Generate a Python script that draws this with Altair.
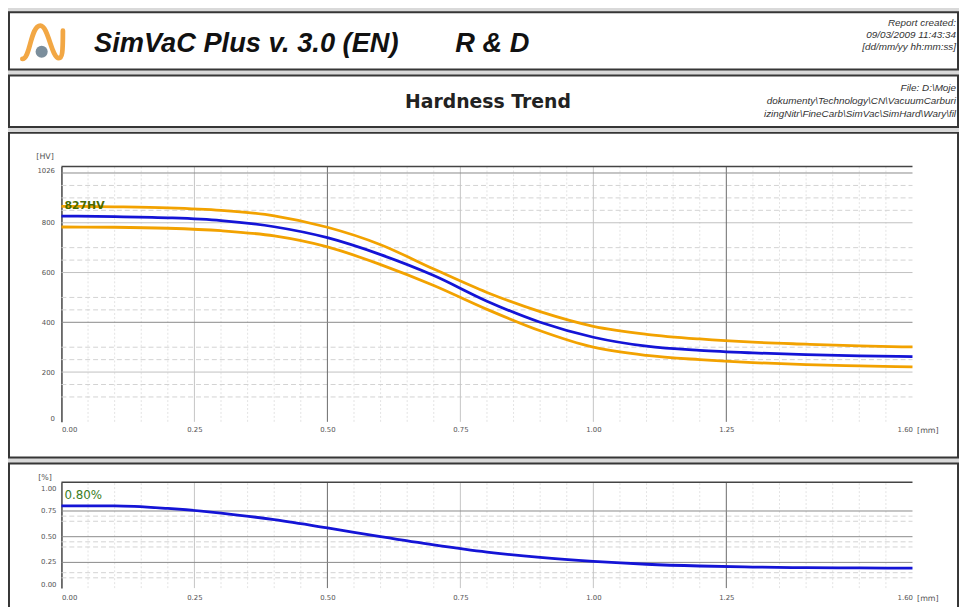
import altair as alt
import pandas as pd

# ---------------- data ----------------
depth_hv = [0.0, 0.1, 0.2, 0.3, 0.4, 0.5, 0.6, 0.7, 0.8, 0.9, 1.0, 1.1, 1.2, 1.3, 1.4, 1.5, 1.6]
hv_mean = [827, 825, 820, 809, 784, 740, 672, 588, 485, 400, 340, 304, 287, 277, 270, 265, 262]
hv_upper = [866, 864, 860, 850, 828, 782, 712, 614, 520, 443, 384, 352, 333, 320, 312, 305, 301]
hv_lower = [783, 782, 778, 768, 747, 703, 632, 548, 452, 366, 300, 267, 250, 238, 230, 225, 221]

depth_c = [0.0, 0.1, 0.2, 0.3, 0.4, 0.5, 0.6, 0.7, 0.8, 0.9, 1.0, 1.1, 1.2, 1.3, 1.4, 1.5, 1.6]
carbon = [0.80, 0.80, 0.775, 0.73, 0.665, 0.585, 0.50, 0.42, 0.35, 0.298, 0.26, 0.232, 0.215, 0.205, 0.199, 0.196, 0.195]

x_ticks = [0.0, 0.25, 0.5, 0.75, 1.0, 1.25, 1.6]
x_grid_dark = [0.5, 1.25]
x_grid_light = [0.25, 0.75, 1.0]
x_grid_minor = [0.05, 0.1, 0.15, 0.2, 0.3, 0.35, 0.4, 0.45, 0.55, 0.6, 0.65, 0.7,
                0.8, 0.85, 0.9, 0.95, 1.05, 1.1, 1.15, 1.2, 1.3, 1.35, 1.4, 1.45, 1.5, 1.55]

hv_ticks = [0, 200, 400, 600, 800, 1026]
hv_grid_dark = [400, 1000]
hv_grid_light = [200, 600, 800]
hv_grid_minor = [100, 150, 250, 300, 450, 500, 650, 700, 850, 900, 950]

c_ticks = [0.0, 0.25, 0.5, 0.75, 1.0]
c_grid = [0.25, 0.5, 0.75]
c_grid_minor = [0.1, 0.15, 0.4, 0.45, 0.65, 0.7]

header_title = "SimVaC Plus v. 3.0 (EN)"
header_dept = "R & D"
report_lines = ["Report created:", "09/03/2009  11:43:34", "[dd/mm/yy hh:mm:ss]"]
page_title = "Hardness Trend"
file_lines = ["File: D:\\Moje", "dokumenty\\Technology\\CN\\VacuumCarburi",
              "izingNitr\\FineCarb\\SimVac\\SimHard\\Wary\\fil"]

X_MAX = 1.6
HV_MAX = 1026
C_MAX = 1.03

# ---------------- styling ----------------
W = 959
FONT = "DejaVu Sans"
LBL = "#555555"
ORANGE = "#f2a200"
BLUE = "#1414d6"
LOGO_PATH = ("M -0.91 0.77 C -0.55 0.77 -0.55 -0.73 -0.1 -0.73 "
             "C 0.25 -0.73 0.4 0.73 0.73 0.73 C 0.88 0.73 0.91 0.5 0.91 -0.5")


def x_scale():
    return alt.Scale(domain=[0, X_MAX], range=[53, 913], nice=False, zero=False)


def hv_scale():
    return alt.Scale(domain=[0, HV_MAX], range=[292, 34], nice=False, zero=False)


def c_scale():
    return alt.Scale(domain=[0, C_MAX], range=[126, 19], nice=False, zero=False)


def x_axis(offset, pad):
    return alt.Axis(values=x_ticks, format=".2f", offset=offset, domain=False, ticks=False,
                    grid=False, labelPadding=pad, labelFlush=True, labelOverlap=False,
                    labelFont=FONT, labelFontSize=7, labelColor=LBL, title="[mm]",
                    titleAngle=0, titleX=928, titleY=pad + 5, titleAlign="center",
                    titleBaseline="middle", titleFont=FONT, titleFontSize=8,
                    titleFontWeight="normal", titleColor=LBL)


def y_axis(values, fmt, title, title_y, pad, flush, show_labels=True):
    return alt.Axis(values=values, format=fmt, offset=-53, domain=True, domainColor="#444444",
                    domainWidth=1.5, ticks=False, grid=False, labels=show_labels,
                    labelPadding=pad, labelFlush=flush, labelOverlap=False, labelFont=FONT,
                    labelFontSize=7, labelColor=LBL, title=title, titleAngle=0, titleX=-17,
                    titleY=title_y, titleAlign="center", titleBaseline="middle",
                    titleFont=FONT, titleFontSize=8, titleFontWeight="normal",
                    titleColor=LBL)


class Panel:
    """Shared scales and axes for every layer of one plot panel."""

    def __init__(self, ys, y_max, xa, ya):
        self.ys, self.y_max, self.xa, self.ya = ys, y_max, xa, ya

    def X(self, field):
        return alt.X(field, scale=x_scale(), axis=self.xa)

    def Y(self, field):
        return alt.Y(field, scale=self.ys(), axis=self.ya)

    def vrules(self, values, color, width=1.0, dash=None):
        kw = dict(color=color, strokeWidth=width)
        if dash:
            kw["strokeDash"] = dash
        return alt.Chart(pd.DataFrame({"x": values})).mark_rule(**kw).encode(
            x=self.X("x:Q"),
            y=alt.YDatum(0, scale=self.ys(), axis=self.ya),
            y2=alt.datum(self.y_max),
        )

    def hrules(self, values, color, width=1.0, dash=None):
        kw = dict(color=color, strokeWidth=width)
        if dash:
            kw["strokeDash"] = dash
        return alt.Chart(pd.DataFrame({"y": values})).mark_rule(**kw).encode(
            y=self.Y("y:Q"),
            x=alt.XDatum(0, scale=x_scale(), axis=self.xa),
            x2=alt.datum(X_MAX),
        )

    def tick_labels(self, values, baseline):
        """Y tick labels drawn through the panel's own y scale."""
        df = pd.DataFrame({"v": values, "t": [f"{v:.2f}" for v in values]})
        return alt.Chart(df).mark_text(align="right", baseline=baseline, dx=-5, font=FONT,
                                       fontSize=7, color=LBL).encode(
            y=self.Y("v:Q"),
            x=alt.XDatum(0, scale=x_scale(), axis=self.xa),
            text="t:N",
        )


ONE = alt.Data(values=[{}])

# ---------------- header box ----------------
logo = alt.Chart(ONE).mark_point(shape=LOGO_PATH, filled=False, color="#f2a33a", opacity=0.95,
                                 strokeWidth=4.8, size=2025, strokeCap="round").encode(
    x=alt.value(34), y=alt.value(30))
sphere = alt.Chart(ONE).mark_circle(size=150, color="#7b8e9c", opacity=1).encode(
    x=alt.value(33), y=alt.value(40))
t1 = alt.Chart(ONE).mark_text(align="left", baseline="middle", font="Liberation Sans",
                              fontStyle="italic", fontWeight="bold", fontSize=27.5,
                              color="#111111").encode(
    x=alt.value(86), y=alt.value(32), text=alt.value(header_title))
t2 = alt.Chart(ONE).mark_text(align="left", baseline="middle", font="Liberation Sans",
                              fontStyle="italic", fontWeight="bold", fontSize=27.5,
                              color="#111111").encode(
    x=alt.value(451), y=alt.value(32), text=alt.value(header_dept))
rep = alt.Chart(ONE).mark_text(align="right", baseline="middle", font="Liberation Sans",
                               fontStyle="italic", fontSize=10, lineHeight=12,
                               color="#333333").encode(
    x=alt.value(W - 2), y=alt.value(11), text=alt.value(report_lines))
header = alt.layer(logo, sphere, t1, t2, rep).properties(width=W, height=58)

# ---------------- title box ----------------
pt = alt.Chart(ONE).mark_text(align="center", baseline="middle", font=FONT, fontWeight="bold",
                              fontSize=19, color="#222222").encode(
    x=alt.value(484), y=alt.value(27), text=alt.value(page_title))
fl = alt.Chart(ONE).mark_text(align="right", baseline="middle", font="Liberation Sans",
                              fontStyle="italic", fontSize=10, lineHeight=13,
                              color="#333333").encode(
    x=alt.value(W - 2), y=alt.value(13), text=alt.value(file_lines))
band = alt.layer(pt, fl).properties(width=W, height=52)

# ---------------- hardness panel ----------------
P1 = Panel(hv_scale, HV_MAX, x_axis(-36, 4), y_axis(hv_ticks, "d", "[HV]", 24, 7, True))
hv_df = pd.DataFrame({"depth": depth_hv, "mean": hv_mean, "upper": hv_upper, "lower": hv_lower})


def hv_line(field, color):
    return alt.Chart(hv_df).mark_line(color=color, strokeWidth=2.8, interpolate="monotone").encode(
        x=P1.X("depth:Q"), y=P1.Y(f"{field}:Q"))


hv_lab = pd.DataFrame({"depth": [depth_hv[0]], "y": [hv_upper[0]], "t": [f"{hv_mean[0]}HV"]})
hv_text = alt.Chart(hv_lab).mark_text(align="left", baseline="middle", dx=3, font=FONT,
                                      fontSize=11, fontWeight="bold", color="#4a6b00").encode(
    x=P1.X("depth:Q"), y=P1.Y("y:Q"), text="t:N")

top = alt.layer(
    P1.vrules(x_grid_minor, "#e3e3e3", 1, [2, 2]),
    P1.hrules(hv_grid_minor, "#d2d2d2", 1, [5, 3]),
    P1.vrules(x_grid_light, "#c4c4c4", 1),
    P1.hrules(hv_grid_light, "#c0c0c0", 1),
    P1.vrules(x_grid_dark, "#6a6a6a", 1),
    P1.hrules(hv_grid_dark, "#8a8a8a", 1),
    P1.hrules([HV_MAX], "#444444", 1.5),
    hv_line("lower", ORANGE),
    hv_line("upper", ORANGE),
    hv_line("mean", BLUE),
    hv_text,
).properties(width=W, height=328)

# ---------------- carbon panel ----------------
P2 = Panel(c_scale, C_MAX, x_axis(-24, 6),
           y_axis(c_ticks, ".2f", "[%]", 14, 5, 4, show_labels=False))
c_df = pd.DataFrame({"depth": depth_c, "carbon": carbon})
c_line = alt.Chart(c_df).mark_line(color=BLUE, strokeWidth=2.8, interpolate="monotone").encode(
    x=P2.X("depth:Q"), y=P2.Y("carbon:Q"))
c_lab = pd.DataFrame({"depth": [depth_c[0]], "y": [carbon[0]], "t": [f"{carbon[0]:.2f}%"]})
c_text = alt.Chart(c_lab).mark_text(align="left", baseline="middle", dx=3, dy=-11, font=FONT,
                                    fontSize=12, color="#3a7d1e").encode(
    x=P2.X("depth:Q"), y=P2.Y("y:Q"), text="t:N")

bottom = alt.layer(
    P2.vrules(x_grid_minor, "#e3e3e3", 1, [2, 2]),
    P2.hrules(c_grid_minor, "#d2d2d2", 1, [5, 3]),
    P2.vrules(x_grid_light, "#c4c4c4", 1),
    P2.vrules(x_grid_dark, "#6a6a6a", 1),
    P2.hrules(c_grid, "#8a8a8a", 1),
    P2.hrules([C_MAX], "#444444", 1.5),
    P2.tick_labels(c_ticks[:1], "bottom"),
    P2.tick_labels(c_ticks[1:-1], "middle"),
    P2.tick_labels(c_ticks[-1:], "top"),
    c_line,
    c_text,
).properties(width=W, height=150)

chart = alt.vconcat(header, band, top, bottom, spacing=4).properties(
    padding=0, background="#d9d9d9"
).configure_view(stroke="#363636", strokeWidth=2, fill="white")

chart.save("out.html", embed_options={"renderer": "svg", "actions": False})
